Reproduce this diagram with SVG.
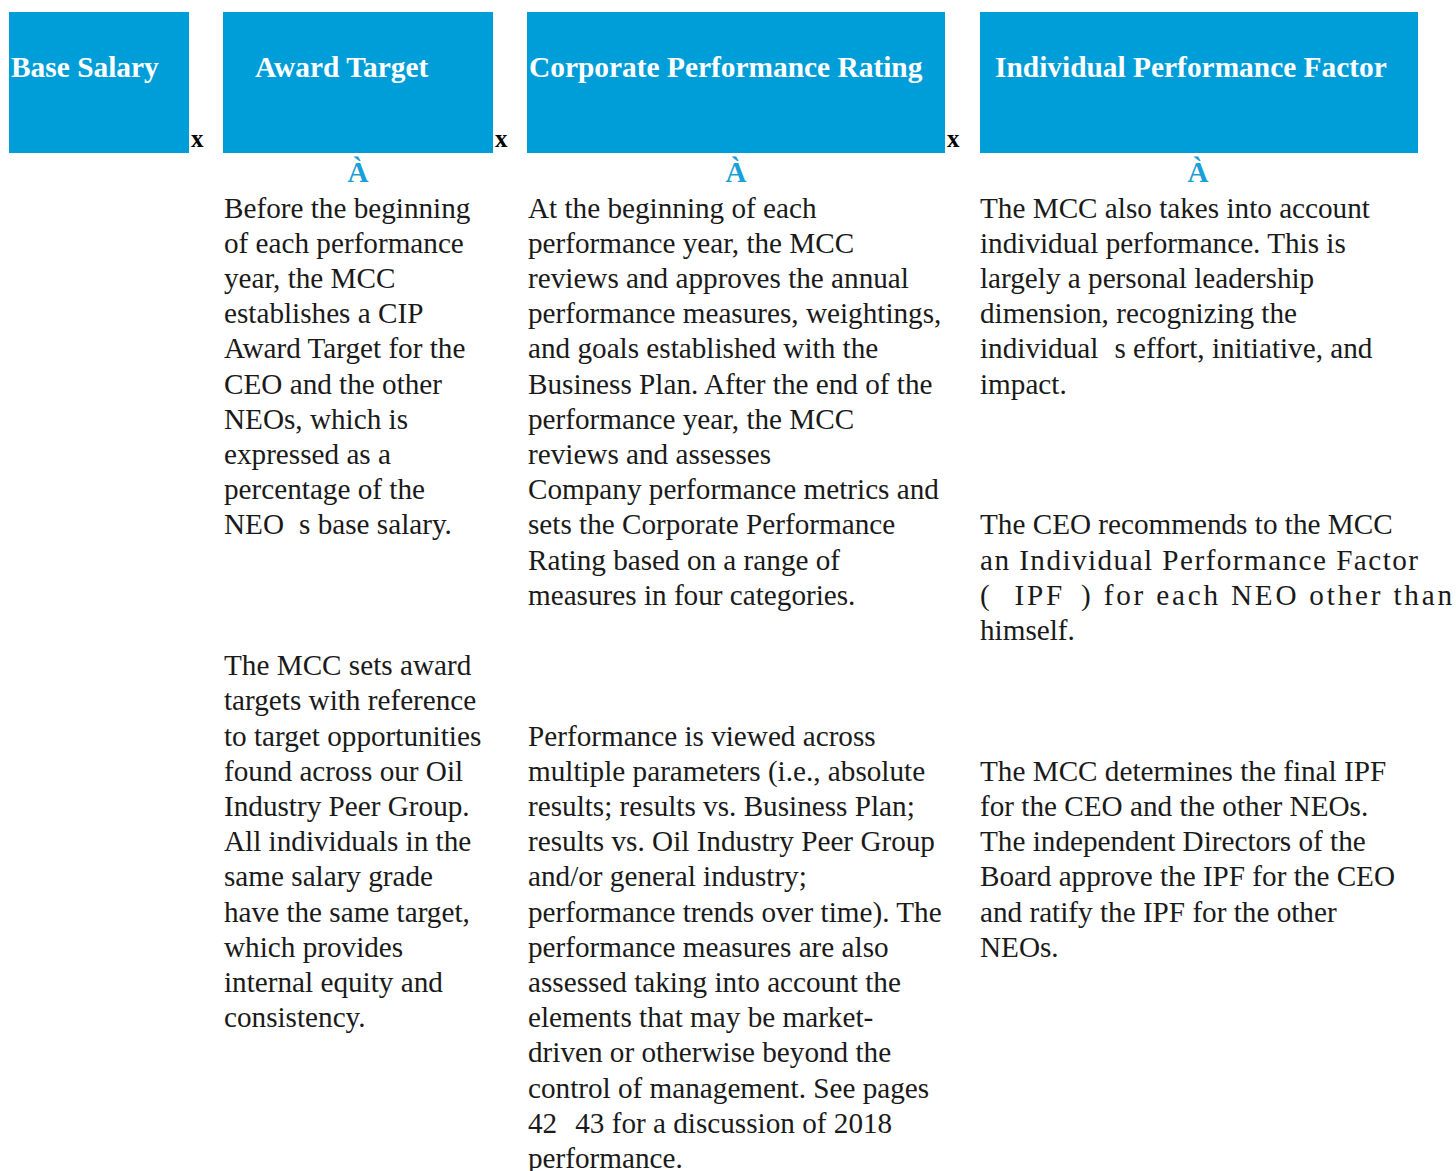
<svg xmlns="http://www.w3.org/2000/svg" width="1456" height="1171" viewBox="0 0 1456 1171">
<style>
.box{fill:#009ed8}
.hd{font-family:"Liberation Serif",serif;font-weight:bold;font-size:29.4px;fill:#ffffff}
.x{font-family:"Liberation Serif",serif;font-weight:bold;font-size:25px;fill:#000}
.ar{font-family:"Liberation Serif",serif;font-weight:bold;font-size:29px;fill:#1a9fd8;text-anchor:middle}
.tx{font-family:"Liberation Serif",serif;font-size:29.2px;fill:#1a1a1a}
</style>
<rect width="1456" height="1171" fill="#fff"/>
<g id="base-salary"><rect class="box" x="9" y="12" width="180" height="141"/><text class="hd" x="11" y="77">Base Salary</text></g>
<g id="award-target"><rect class="box" x="223" y="12" width="270" height="141"/><text class="hd" x="255" y="77">Award Target</text></g>
<g id="corporate-performance-rating"><rect class="box" x="527" y="12" width="418" height="141"/><text class="hd" x="529" y="77">Corporate Performance Rating</text></g>
<g id="individual-performance-factor"><rect class="box" x="980" y="12" width="438" height="141"/><text class="hd" x="995" y="77">Individual Performance Factor</text></g>
<g id="connectors">
<text class="x" x="191" y="147">x</text>
<text class="x" x="495" y="147">x</text>
<text class="x" x="947" y="147">x</text>
<text class="ar" x="358" y="182">À</text>
<text class="ar" x="736" y="182">À</text>
<text class="ar" x="1198" y="182">À</text>
</g>
<g id="award-target-text" class="tx">
<text x="224" y="218">Before the beginning</text>
<text x="224" y="253">of each performance</text>
<text x="224" y="288">year, the MCC</text>
<text x="224" y="323">establishes a CIP</text>
<text x="224" y="358">Award Target for the</text>
<text x="224" y="394">CEO and the other</text>
<text x="224" y="429">NEOs, which is</text>
<text x="224" y="464">expressed as a</text>
<text x="224" y="499">percentage of the</text>
<text x="224" y="534">NEO<tspan dx="15">s base salary.</tspan></text>
<text x="224" y="675">The MCC sets award</text>
<text x="224" y="710">targets with reference</text>
<text x="224" y="746">to target opportunities</text>
<text x="224" y="781">found across our Oil</text>
<text x="224" y="816">Industry Peer Group.</text>
<text x="224" y="851">All individuals in the</text>
<text x="224" y="886">same salary grade</text>
<text x="224" y="922">have the same target,</text>
<text x="224" y="957">which provides</text>
<text x="224" y="992">internal equity and</text>
<text x="224" y="1027">consistency.</text>
</g>
<g id="corporate-performance-text" class="tx">
<text x="528" y="218">At the beginning of each</text>
<text x="528" y="253">performance year, the MCC</text>
<text x="528" y="288">reviews and approves the annual</text>
<text x="528" y="323">performance measures, weightings,</text>
<text x="528" y="358">and goals established with the</text>
<text x="528" y="394">Business Plan. After the end of the</text>
<text x="528" y="429">performance year, the MCC</text>
<text x="528" y="464">reviews and assesses</text>
<text x="528" y="499">Company performance metrics and</text>
<text x="528" y="534">sets the Corporate Performance</text>
<text x="528" y="570">Rating based on a range of</text>
<text x="528" y="605">measures in four categories.</text>
<text x="528" y="746">Performance is viewed across</text>
<text x="528" y="781">multiple parameters (i.e., absolute</text>
<text x="528" y="816">results; results vs. Business Plan;</text>
<text x="528" y="851">results vs. Oil Industry Peer Group</text>
<text x="528" y="886">and/or general industry;</text>
<text x="528" y="922">performance trends over time). The</text>
<text x="528" y="957">performance measures are also</text>
<text x="528" y="992">assessed taking into account the</text>
<text x="528" y="1027">elements that may be market-</text>
<text x="528" y="1062">driven or otherwise beyond the</text>
<text x="528" y="1098">control of management. See pages</text>
<text x="528" y="1133">42<tspan dx="18">43 for a discussion of 2018</tspan></text>
<text x="528" y="1168">performance.</text>
</g>
<g id="individual-performance-text" class="tx">
<text x="980" y="218">The MCC also takes into account</text>
<text x="980" y="253">individual performance. This is</text>
<text x="980" y="288">largely a personal leadership</text>
<text x="980" y="323">dimension, recognizing the</text>
<text x="980" y="358">individual<tspan dx="16">s effort, initiative, and</tspan></text>
<text x="980" y="394">impact.</text>
<text x="980" y="534">The CEO recommends to the MCC</text>
<text x="980" y="570" textLength="438" lengthAdjust="spacing">an Individual Performance Factor</text>
<text x="980" y="605" textLength="472" lengthAdjust="spacing">(<tspan dx="22">IPF</tspan><tspan dx="16">) for each NEO other than</tspan></text>
<text x="980" y="640">himself.</text>
<text x="980" y="781">The MCC determines the final IPF</text>
<text x="980" y="816">for the CEO and the other NEOs.</text>
<text x="980" y="851">The independent Directors of the</text>
<text x="980" y="886">Board approve the IPF for the CEO</text>
<text x="980" y="922">and ratify the IPF for the other</text>
<text x="980" y="957">NEOs.</text>
</g>
</svg>
